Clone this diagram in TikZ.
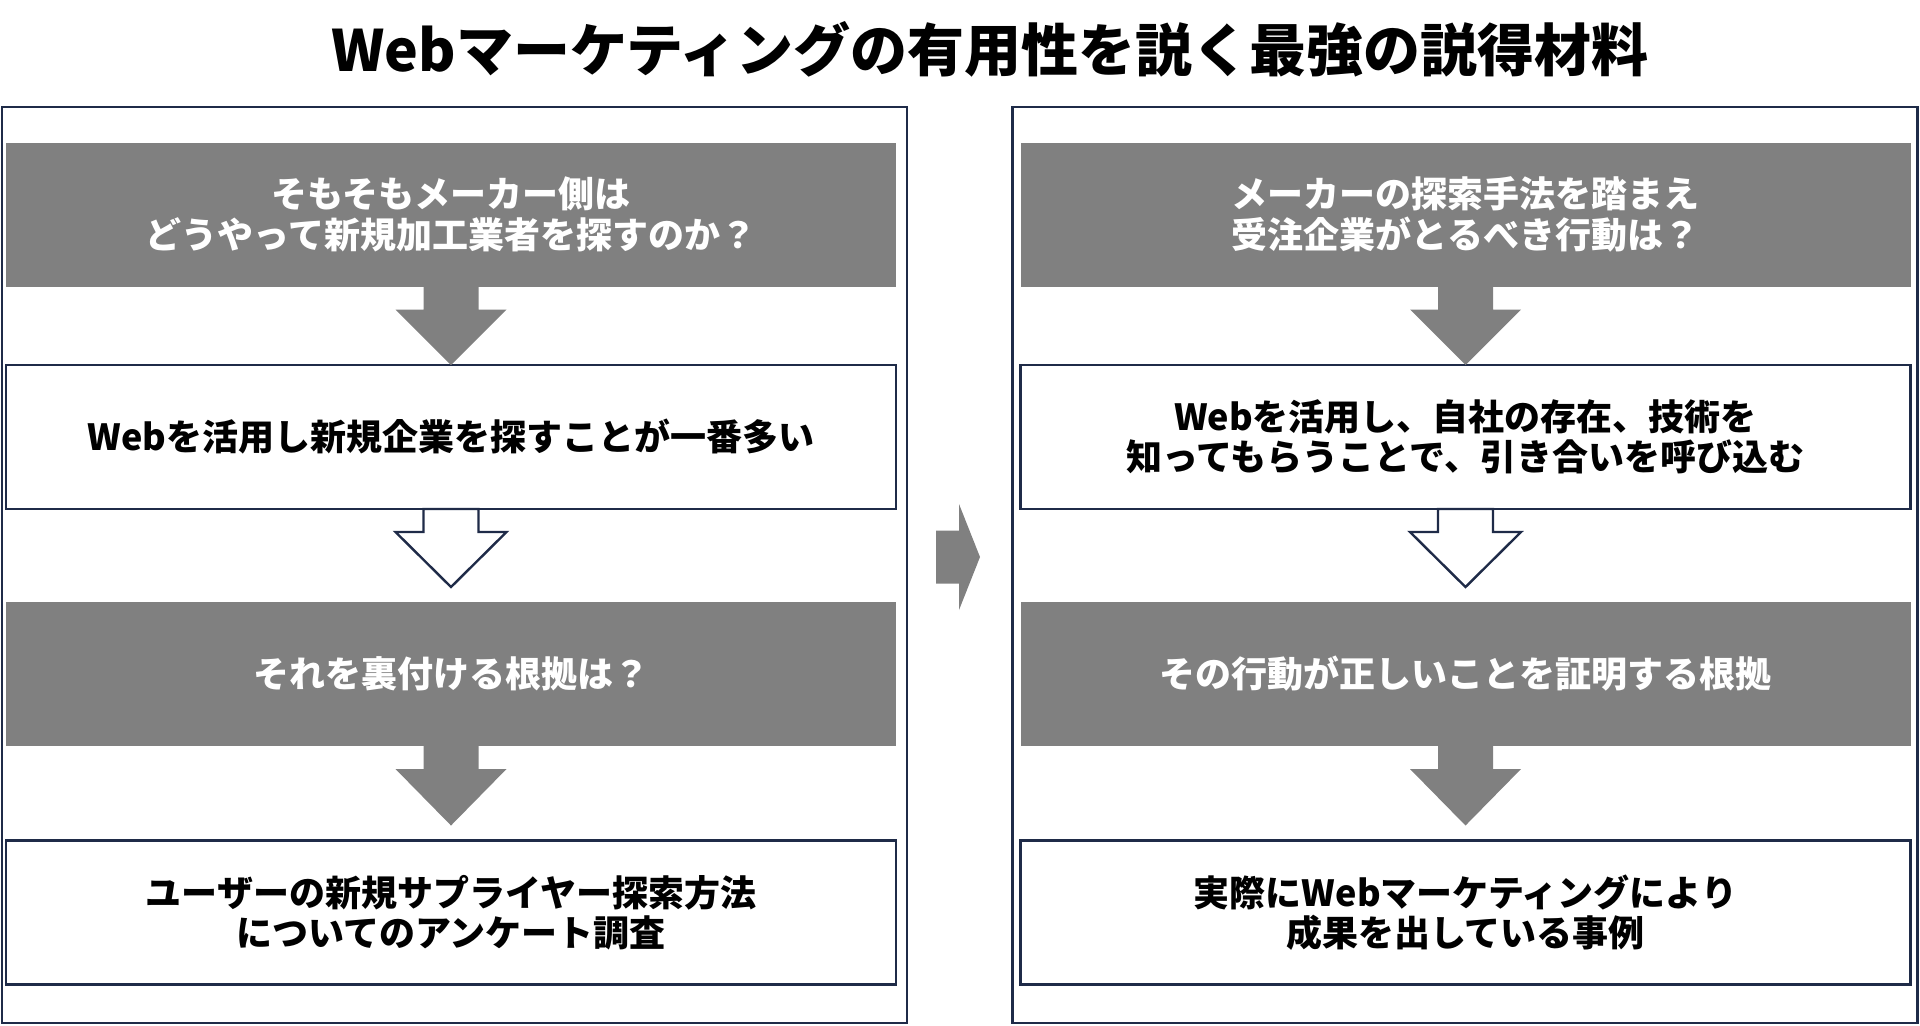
\documentclass[tikz,border=0pt]{standalone}
\usepackage{fontspec}
\setmainfont{Noto Sans CJK JP}
\usepackage{xcolor}
\usepackage{tikz}
\usetikzlibrary{positioning,calc}
\definecolor{marino}{HTML}{1F2B48}
\definecolor{gris}{HTML}{808080}

% flecha de bloque: estilo, origen, punta
\newcommand\bloque[3]{%
  \draw[#1] ($(#2)+(-27.5,0)$) -- ($(#2)+(27.5,0)$) -- ($(#2)+(27.5,23)$)
    -- ($(#2)+(55.5,23)$) -- (#3) -- ($(#2)+(-55.5,23)$) -- ($(#2)+(-27.5,23)$) -- cycle;}

\begin{document}
\begin{tikzpicture}[x=0.5pt, y=-0.5pt,
  font=\bfseries\fontsize{18pt}{20.3pt}\selectfont,
  marco/.style={draw=marino, line width=1.4pt, minimum width=452.5pt, minimum height=458pt, inner sep=0pt, outer sep=0pt},
  caja/.style={minimum width=445pt, minimum height=72pt, inner sep=0pt, outer sep=0pt, align=center},
  gris/.style={caja, fill=gris, text=white},
  blanca/.style={caja, draw=marino, line width=1.3pt, fill=white, text=black},
  llena/.style={fill=gris, draw=none},
  hueca/.style={draw=marino, line width=1.2pt, fill=white, line join=miter}]
  \useasboundingbox (0,0) rectangle (1920,1025);
  \node[font=\bfseries\fontsize{28.5pt}{32pt}\selectfont] (titulo) at (990,49) {Webマーケティングの有用性を説く最強の説得材料};
  % marcos
  \node[marco] (izq) at (454.5,565) {};
  \node[marco] (der) at (1465,565) {};
  % columna izquierda
  \node[gris] (g1) at (451,214.5) {そもそもメーカー側は\\どうやって新規加工業者を探すのか？};
  \node[blanca] (b1) at (451,437) {Webを活用し新規企業を探すことが一番多い};
  \node[gris] (g2) at (451,674) {それを裏付ける根拠は？};
  \node[blanca] (b2) at (451,912.5) {ユーザーの新規サプライヤー探索方法\\についてのアンケート調査};
  % columna derecha
  \node[gris] (g3) at (1465.5,214.5) {メーカーの探索手法を踏まえ\\受注企業がとるべき行動は？};
  \node[blanca] (b3) at (1465.5,437) {Webを活用し、自社の存在、技術を\\知ってもらうことで、引き合いを呼び込む};
  \node[gris] (g4) at (1465.5,674) {その行動が正しいことを証明する根拠};
  \node[blanca] (b4) at (1465.5,912.5) {実際にWebマーケティングにより\\成果を出している事例};
  % flechas
  \bloque{llena}{g1.south}{b1.north}
  \bloque{hueca}{b1.south}{$(g2.north)+(0,-15)$}
  \bloque{llena}{g2.south}{$(b2.north)+(0,-15)$}
  \bloque{llena}{g3.south}{b3.north}
  \bloque{hueca}{b3.south}{$(g4.north)+(0,-15)$}
  \bloque{llena}{g4.south}{$(b4.north)+(0,-15)$}
  % flecha entre marcos
  \coordinate (m) at (936,557);
  \fill[gris] ($(m)+(0,-26.5)$) -- ($(m)+(23,-26.5)$) -- ($(m)+(23,-53)$) -- ($(m)+(44,0)$)
    -- ($(m)+(23,53)$) -- ($(m)+(23,26.5)$) -- ($(m)+(0,26.5)$) -- cycle;
\end{tikzpicture}
\end{document}
